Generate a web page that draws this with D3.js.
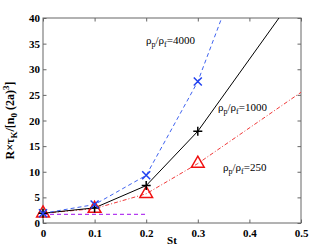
<!DOCTYPE html>
<html>
<head>
<meta charset="utf-8">
<script src="https://cdn.jsdelivr.net/npm/d3@7"></script>
<style>
body{margin:0;background:#fff}
text{font-family:"Liberation Serif","DejaVu Serif",serif}
</style>
</head>
<body>
<svg id="chart" width="332" height="250"></svg>
<script>
// St values where markers sit
const stMarks = [0, 0.1, 0.2, 0.3]
// rho_p/rho_f = 4000 (blue x)
const r4000 = [1.9, 3.6, 9.3, 27.6]
// rho_p/rho_f = 1000 (black +)
const r1000 = [1.9, 2.95, 7.3, 17.9]
// rho_p/rho_f = 250 (red triangle)
const r250 = [1.9, 2.8, 5.7, 11.6]
// extra line end points (lines leave the box)
const r4000Ext = [[0.35, 41]]
const r1000Ext = [[0.5, 46]]
const r250Ext = [[0.5, 25.5]]
// flat reference line
const refLine = [[0, 1.7], [0.2, 1.7]]

const xTicks = [0, 0.1, 0.2, 0.3, 0.4, 0.5]
const yTicks = [0, 5, 10, 15, 20, 25, 30, 35, 40]

const svg = d3.select("#chart")
const m = {l:43, r:31, t:18, b:27}
const W = 332, H = 250

const x = d3.scaleLinear().domain([0, 0.5]).range([m.l, W - m.r])
const y = d3.scaleLinear().domain([0, 40]).range([H - m.b, m.t])

svg.append("defs").append("clipPath").attr("id","clip")
.append("rect")
.attr("x", x(0)).attr("y", y(40))
.attr("width", x(0.5)-x(0)).attr("height", y(0)-y(40))

// axes, ticks inward
const axCol = "#666"
function styleAx(g){
    g.select(".domain").remove()
    g.selectAll("line").attr("stroke", axCol)
    g.selectAll("text").attr("fill","#000").attr("font-weight","bold").attr("font-size","11px")
}
svg.append("g").attr("transform",`translate(0,${y(0)})`)
.call(d3.axisBottom(x).tickValues(xTicks).tickSize(-3.5).tickPadding(6).tickFormat(d=>d===0?"0":d3.format(".1f")(d)))
.call(styleAx)
svg.append("g").attr("transform",`translate(0,${y(40)})`)
.call(d3.axisTop(x).tickValues(xTicks).tickSize(-3.5).tickFormat(""))
.call(styleAx)
svg.append("g").attr("transform",`translate(${x(0)},0)`)
.call(d3.axisLeft(y).tickValues(yTicks).tickSize(-3.5).tickPadding(3))
.call(styleAx)
svg.append("g").attr("transform",`translate(${x(0.5)},0)`)
.call(d3.axisRight(y).tickValues(yTicks).tickSize(-3.5).tickFormat(""))
.call(styleAx)

svg.append("rect")
.attr("x", x(0)).attr("y", y(40))
.attr("width", x(0.5)-x(0)).attr("height", y(0)-y(40))
.attr("fill","none").attr("stroke",axCol).attr("stroke-width",1)

const line = d3.line().x(d=>x(d[0])).y(d=>y(d[1]))
const plot = svg.append("g").attr("clip-path","url(#clip)")

function pts(vals, ext){ return stMarks.map((s,i)=>[s, vals[i]]).concat(ext) }

plot.append("path").datum(refLine).attr("d", line)
.attr("fill","none").attr("stroke","#b43cf0").attr("stroke-width",1.2).attr("stroke-dasharray","4,3")

plot.append("path").datum(pts(r250, r250Ext)).attr("d", line)
.attr("fill","none").attr("stroke","#f03838").attr("stroke-width",1).attr("stroke-dasharray","4,2,1,2")

plot.append("path").datum(pts(r1000, r1000Ext)).attr("d", line)
.attr("fill","none").attr("stroke","#000").attr("stroke-width",1)

plot.append("path").datum(pts(r4000, r4000Ext)).attr("d", line)
.attr("fill","none").attr("stroke","#3f63f0").attr("stroke-width",1).attr("stroke-dasharray","4,3")

// markers
const mk = svg.append("g")
stMarks.forEach((s,i)=>{
    // red triangle
    const cx = x(s), cy = y(r250[i])
    mk.append("path")
    .attr("d", d3.symbol().type(d3.symbolTriangle).size(70)())
    .attr("transform",`translate(${cx},${cy})`)
    .attr("fill","none").attr("stroke","#f01010").attr("stroke-width",1.5)
})
stMarks.forEach((s,i)=>{
    const cx = x(s), cy = y(r1000[i])
    mk.append("path")
    .attr("d", `M${cx-4.5},${cy}H${cx+4.5}M${cx},${cy-4.5}V${cy+4.5}`)
    .attr("stroke","#000").attr("stroke-width",1.5)
})
stMarks.forEach((s,i)=>{
    const cx = x(s), cy = y(r4000[i])
    mk.append("path")
    .attr("d", `M${cx-4},${cy-4}L${cx+4},${cy+4}M${cx-4},${cy+4}L${cx+4},${cy-4}`)
    .attr("stroke","#2040f0").attr("stroke-width",1.5)
})

// series labels
function rhoLabel(px, py, val){
    const t = svg.append("text").attr("x",px).attr("y",py).attr("font-size","11px").attr("fill","#000")
    t.append("tspan").text("ρ")
    t.append("tspan").attr("font-size","8px").attr("dy",3).text("p")
    t.append("tspan").attr("dy",-3).text("/ρ")
    t.append("tspan").attr("font-size","8px").attr("dy",3).text("f")
    t.append("tspan").attr("dy",-3).text("=" + val)
}
rhoLabel(146, 44, "4000")
rhoLabel(218, 111, "1000")
rhoLabel(223, 171, "250")

// axis titles
svg.append("text").attr("x", x(0.25)).attr("y", 244)
.attr("text-anchor","middle").attr("font-weight","bold").attr("font-size","11px").text("St")

const yl = svg.append("text")
.attr("transform",`translate(14,${y(20)}) rotate(-90)`)
.attr("text-anchor","middle").attr("font-weight","bold").attr("font-size","12px")
yl.append("tspan").text("R×τ")
yl.append("tspan").attr("font-size","9px").attr("dy",3).text("K")
yl.append("tspan").attr("dy",-3).text("/[n")
yl.append("tspan").attr("font-size","9px").attr("dy",3).text("0")
yl.append("tspan").attr("dy",-3).text(" (2a)")
yl.append("tspan").attr("font-size","9px").attr("dy",-5).text("3")
yl.append("tspan").attr("dy",5).text("]")
</script>
</body>
</html>
